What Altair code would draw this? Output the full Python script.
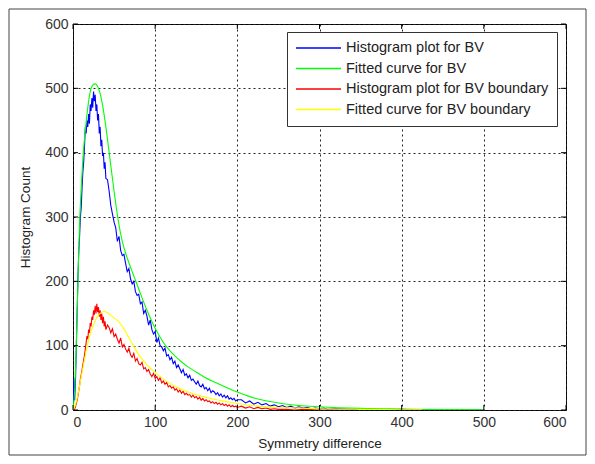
import altair as alt
import pandas as pd

FONT = "Liberation Sans"

x_ticks = [0, 100, 200, 300, 400, 500, 600]
y_ticks = [0, 100, 200, 300, 400, 500, 600]

series_names = [
    "Histogram plot for BV",
    "Fitted curve for BV",
    "Histogram plot for BV boundary",
    "Fitted curve for BV boundary",
]
series_colors = ["#0000ff", "#00ff00", "#ff0000", "#ffff00"]

# Histogram for BV (blue)
bv_hist_x = list(range(0, 41)) + list(range(42, 201, 2)) + [
    205, 210, 215, 220, 225, 230, 235, 240, 245, 250, 255, 260, 265, 270, 275,
    280, 285, 290, 295, 300, 305, 310, 320, 340, 360, 380, 400, 420, 450, 480, 500]
bv_hist_y = [
    0, 50, 15, 45, 95, 150, 205, 245, 270, 300, 315, 345, 370, 385, 410, 440, 430,
    450, 440, 460, 445, 475, 465, 485, 470, 495, 480, 490, 465, 475, 450, 460, 430,
    440, 410, 420, 395, 400, 375, 385, 360,
    358, 340, 318, 305, 292, 283, 262, 270, 248, 240,
    242, 228, 215, 220, 204, 196, 200, 184, 178, 180,
    165, 168, 150, 155, 146, 132, 140, 125, 118, 122,
    105, 112, 100, 98, 92, 96, 84, 86, 78, 82,
    72, 76, 66, 70, 64, 58, 63, 54, 56, 50,
    54, 46, 48, 44, 40, 45, 38, 36, 40, 33,
    35, 30, 34, 27, 30, 28, 24, 27, 22, 25,
    20, 23, 19, 22, 17, 19, 16, 18, 14, 16,
    16, 11, 14, 9, 12, 8, 10, 6, 8, 5, 7, 4, 6, 3, 5,
    3, 4, 2, 3, 2, 3, 1, 2, 1, 1, 0, 1, 0, 0, 0, 0]

# Fitted curve for BV (green)
bv_fit_x = [0, 2, 4, 6, 8, 10, 12, 15, 18, 21, 24, 27, 30, 33, 36, 40, 45, 50, 55,
            60, 65, 70, 75, 80, 90, 100, 110, 120, 130, 140, 150, 160, 175, 200,
            225, 250, 275, 300, 350, 400, 450, 500]
bv_fit_y = [0, 30, 100, 200, 290, 345, 390, 435, 470, 495, 505, 507, 503, 492, 474,
            440, 390, 340, 295, 262, 240, 222, 205, 188, 155, 127, 105, 89, 77, 67,
            59, 51, 42, 28, 17, 11, 7, 5, 2.5, 1.5, 0.8, 0.5]

# Histogram for BV boundary (red)
bd_hist_x = list(range(0, 41)) + list(range(42, 201, 2)) + [
    205, 210, 215, 220, 225, 230, 235, 240, 245, 250, 260, 270, 280, 300, 320,
    350, 380, 425]
bd_hist_y = [
    0, 0, 2, 5, 10, 15, 22, 30, 38, 48, 55, 62, 70, 78, 85, 95, 105, 115, 110, 125,
    120, 135, 130, 145, 140, 155, 148, 162, 150, 165, 152, 160, 145, 155, 140, 150,
    135, 145, 130, 138, 125,
    132, 128, 120, 126, 114, 118, 110, 104, 112, 98,
    102, 95, 90, 96, 86, 82, 88, 76, 80, 72,
    70, 74, 64, 66, 60, 63, 56, 52, 57, 49,
    52, 46, 50, 42, 45, 40, 43, 36, 38, 34,
    36, 31, 33, 28, 31, 26, 29, 24, 26, 23,
    24, 20, 23, 19, 21, 17, 20, 15, 18, 14,
    16, 13, 14, 11, 13, 10, 12, 9, 11, 8,
    10, 7, 9, 6, 8, 5, 7, 5, 6, 4,
    6, 3, 5, 2, 4, 2, 3, 1, 2, 1, 1, 0, 1, 0, 0, 0, 0, 0]

# Fitted curve for BV boundary (yellow)
bd_fit_x = [0, 3, 5, 8, 10, 12, 15, 18, 21, 25, 30, 35, 38, 42, 48, 55, 60, 70, 80,
            90, 100, 110, 125, 140, 155, 170, 187, 200, 225, 250, 275, 300, 350,
            400, 425]
bd_fit_y = [0, 8, 18, 38, 52, 65, 85, 103, 118, 133, 146, 152, 153, 151, 145, 138,
            130, 108, 86, 70, 58, 48, 36, 28, 22, 17, 13, 10, 6, 4, 3, 2, 1, 0.5,
            0.3]

W, H = 493, 386

xs = alt.Scale(domain=[0, 600], nice=False, zero=False)
ys = alt.Scale(domain=[0, 600], nice=False, zero=False)

legend = alt.Legend(
    title=None, orient="none", legendX=214, legendY=8,
    strokeColor="#333333", fillColor="white", padding=8,
    symbolType="stroke", symbolSize=2025, symbolStrokeWidth=1.5,
    labelFont=FONT, labelFontSize=14.5, labelColor="#222222", labelLimit=400,
    clipHeight=16, rowPadding=4.5, labelOffset=4, cornerRadius=0,
)
color_enc = alt.Color("series:N",
                      scale=alt.Scale(domain=series_names, range=series_colors),
                      legend=legend)

x_axis = alt.Axis(values=x_ticks, title="Symmetry difference", grid=True,
                  domain=False, ticks=False, labelPadding=5, titlePadding=7)
y_axis = alt.Axis(values=y_ticks, title="Histogram Count", grid=True,
                  domain=False, ticks=False, labelPadding=5, titlePadding=12)

X = lambda f: alt.X(f, scale=xs, axis=x_axis, title="Symmetry difference")
Y = lambda f: alt.Y(f, scale=ys, axis=y_axis, title="Histogram Count")


def line_layer(xv, yv, name, interp):
    df = pd.DataFrame({"x": xv, "y": yv, "series": name})
    return alt.Chart(df).mark_line(strokeWidth=1.1, interpolate=interp, clip=True).encode(
        x=X("x:Q"), y=Y("y:Q"), color=color_enc,
    )


layers = [
    line_layer(bv_hist_x, bv_hist_y, series_names[0], "linear"),
    line_layer(bv_fit_x, bv_fit_y, series_names[1], "monotone"),
    line_layer(bd_hist_x, bd_hist_y, series_names[2], "linear"),
    line_layer(bd_fit_x, bd_fit_y, series_names[3], "monotone"),
]

xt = pd.DataFrame({"x": x_ticks})
yt = pd.DataFrame({"y": y_ticks})
tick_style = dict(color="black", strokeWidth=1)
ticks = [
    alt.Chart(xt).mark_rule(**tick_style).encode(x=X("x:Q"), y=alt.value(H), y2=alt.value(H - 5)),
    alt.Chart(xt).mark_rule(**tick_style).encode(x=X("x:Q"), y=alt.value(0), y2=alt.value(5)),
    alt.Chart(yt).mark_rule(**tick_style).encode(y=Y("y:Q"), x=alt.value(0), x2=alt.value(5)),
    alt.Chart(yt).mark_rule(**tick_style).encode(y=Y("y:Q"), x=alt.value(W), x2=alt.value(W - 5)),
]

border = alt.Chart(pd.DataFrame({"k": [0]})).mark_rect(
    filled=False, stroke="#444444", strokeWidth=1, clip=False
).encode(x=alt.value(-64), x2=alt.value(W + 20), y=alt.value(-15), y2=alt.value(H + 45))

chart = alt.layer(*layers, *ticks, border).properties(
    width=W, height=H,
    autosize=alt.AutoSizeParams(type="none"),
    padding={"left": 65, "top": 16, "right": 21, "bottom": 46},
    background="white",
).configure_view(
    stroke="black", strokeWidth=1
).configure_axis(
    gridColor="#222222", gridDash=[2, 3], gridOpacity=1, gridWidth=1,
    labelFont=FONT, labelFontSize=14, labelColor="#333333",
    titleFont=FONT, titleFontSize=13.5, titleColor="#222222", titleFontWeight="normal",
)

chart.save("out.html", embed_options={"renderer": "svg", "actions": False})
